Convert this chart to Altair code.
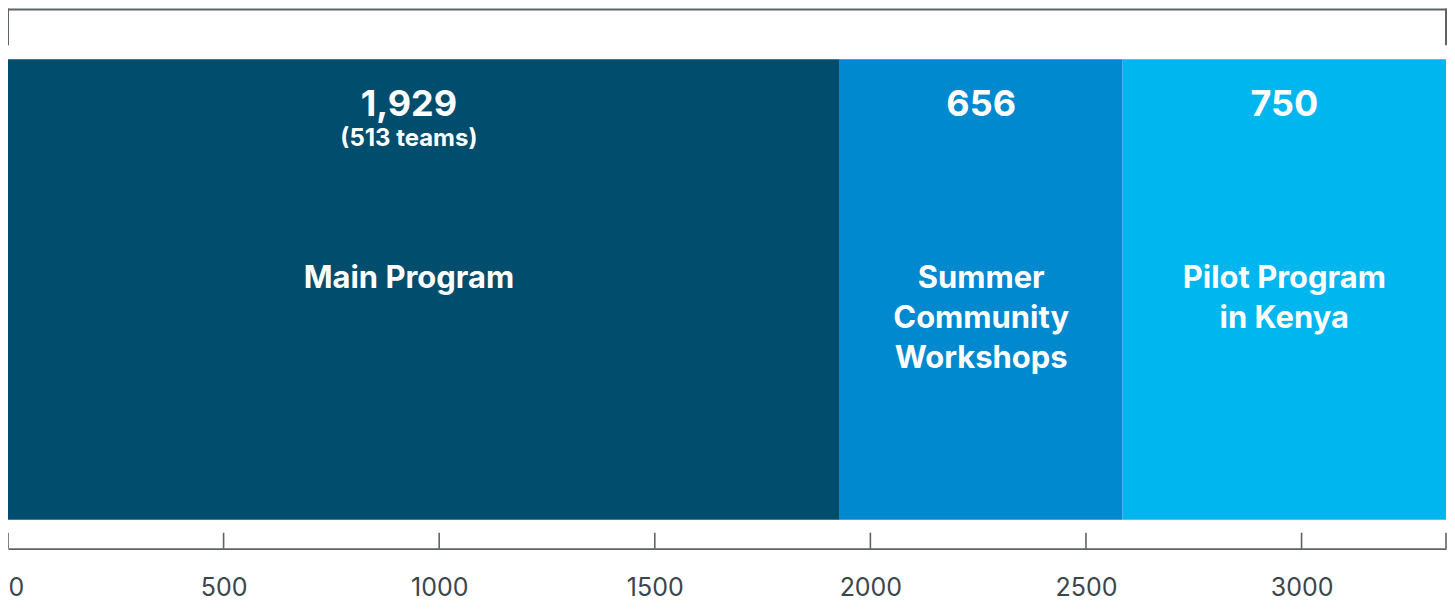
import altair as alt
import pandas as pd

categories = ["Main Program", "Summer Community Workshops", "Pilot Program in Kenya"]
values = [1929, 656, 750]
value_labels = ["1,929", "656", "750"]
name_lines = [["Main Program"], ["Summer", "Community", "Workshops"], ["Pilot Program", "in Kenya"]]
sub_labels = ["(513 teams)", "", ""]
colors = ["#014d6d", "#0089cf", "#00b6ee"]
tick_values = [0, 500, 1000, 1500, 2000, 2500, 3000]

total = sum(values)
starts = []
acc = 0
for v in values:
    starts.append(acc)
    acc += v

df = pd.DataFrame({
    "category": categories,
    "start": starts,
    "end": [s + v for s, v in zip(starts, values)],
    "mid": [s + v / 2 for s, v in zip(starts, values)],
    "value_label": value_labels,
    "name": name_lines,
    "sub": sub_labels,
})

FONT = "Inter"
W, H = 1440, 541

xscale = alt.Scale(domain=[0, total], nice=False, zero=False)

bars = alt.Chart(df).mark_rect().encode(
    x=alt.X("start:Q", scale=xscale, axis=alt.Axis(
        values=tick_values, ticks=False, tickSize=0, grid=False, title=None,
        domainColor="#5b646b", domainWidth=1.6, labelFontSize=25, labelFont=FONT,
        labelColor="#3a464d", labelPadding=47, labelBaseline="alphabetic",
        labelFlush=True, format="d")),
    x2="end:Q",
    y=alt.value(51),
    y2=alt.value(512),
    color=alt.Color("category:N", scale=alt.Scale(domain=categories, range=colors), legend=None),
)

main_df = df.iloc[[0]]
other_df = df.iloc[1:]

def texts(data, dx):
    num = alt.Chart(data).mark_text(
        font=FONT, fontWeight="bold", fontSize=36, color="white",
        baseline="alphabetic", align="center", dx=dx
    ).encode(x=alt.X("mid:Q", scale=xscale), y=alt.value(108), text="value_label:N")
    sub = alt.Chart(data).mark_text(
        font=FONT, fontWeight="bold", fontSize=24, color="white",
        baseline="alphabetic", align="center", dx=dx
    ).encode(x=alt.X("mid:Q", scale=xscale), y=alt.value(138), text="sub:N")
    name = alt.Chart(data).mark_text(
        font=FONT, fontWeight="bold", fontSize=31, color="white",
        baseline="alphabetic", align="center", dx=dx, lineHeight=40
    ).encode(x=alt.X("mid:Q", scale=xscale), y=alt.value(280), text="name")
    return [num, sub, name]

tick_df = pd.DataFrame({"t": tick_values + [total]})
ticks = alt.Chart(tick_df).mark_rule(color="#5b646b", strokeWidth=1.6).encode(
    x=alt.X("t:Q", scale=xscale), y=alt.value(525), y2=alt.value(541))

bracket_df = pd.DataFrame({"a": [0], "b": [total]})
top_line = alt.Chart(bracket_df).mark_rule(color="#5b646b", strokeWidth=2).encode(
    x=alt.X("a:Q", scale=xscale), x2="b:Q", y=alt.value(1))
end_df = pd.DataFrame({"t": [0, total]})
top_ends = alt.Chart(end_df).mark_rule(color="#5b646b", strokeWidth=2).encode(
    x=alt.X("t:Q", scale=xscale), y=alt.value(0), y2=alt.value(37))

chart = alt.layer(bars, *texts(main_df, -15), *texts(other_df, 0), ticks, top_line, top_ends).properties(
    width=W, height=H, padding={"left": 0, "top": 0, "right": 1, "bottom": 55},
    autosize=alt.AutoSizeParams(type="none"),
).configure_view(stroke=None)

chart.save("out.html", embed_options={"renderer": "svg", "actions": False})
